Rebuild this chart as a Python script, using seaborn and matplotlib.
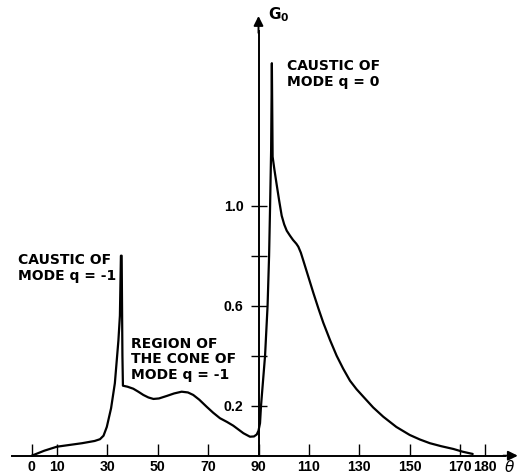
import matplotlib
matplotlib.use("Agg")
import matplotlib.pyplot as plt
import seaborn as sns

# G0 as a function of theta (degrees)
theta = [0, 5, 10, 15, 20, 25, 27.1, 28.5, 29.8, 31.5, 33.0, 34.4, 35.0, 35.4, 35.7, 36.0, 36.2,
         38.0, 40.3, 42.3, 44.3, 46.3, 48.3, 50.5, 53.6, 56.5, 59.5, 62.0, 64.1, 66.5, 69.4,
         72.0, 74.7, 77.5, 80.0, 82.0, 84.0, 86.6, 88.2, 89.3, 90.0, 90.6,
         91.0, 92.6, 93.6, 94.2, 94.6, 95.0, 95.3, 95.6, 96.3, 97.2, 98.2, 99.2, 100.2, 101.2,
         102.5, 103.7, 105.0, 105.8, 106.8, 107.8, 109.8, 111.8, 113.8, 115.7, 118.4, 121.0,
         123.6, 126.3, 128.9, 131.6, 135.5, 139.5, 144.7, 150.0, 154.0, 158.0, 162.5, 167.3,
         171.0, 175.0]
g0 = [0.0, 0.02, 0.036, 0.043, 0.05, 0.059, 0.066, 0.08, 0.115, 0.19, 0.29, 0.46, 0.56, 0.80,
      0.80, 0.40, 0.28,
      0.276, 0.268, 0.256, 0.243, 0.233, 0.227, 0.229, 0.239, 0.249, 0.256, 0.253, 0.243, 0.224,
      0.196, 0.172, 0.15, 0.135, 0.12, 0.105, 0.09, 0.076, 0.077, 0.085, 0.1, 0.13,
      0.2, 0.4, 0.6, 0.8, 1.0, 1.22, 1.57, 1.196, 1.145, 1.085, 1.02, 0.96, 0.925, 0.90,
      0.88, 0.863, 0.848, 0.836, 0.812, 0.78, 0.715, 0.65, 0.588, 0.532, 0.462, 0.40,
      0.348, 0.30, 0.266, 0.236, 0.193, 0.156, 0.115, 0.083, 0.065, 0.05, 0.038, 0.027,
      0.016, 0.007]

x_ticks = [0, 10, 30, 50, 70, 90, 110, 130, 150, 170, 180]
y_ticks = [0.2, 0.4, 0.6, 0.8, 1.0]
y_tick_labels = ["0.2", "", "0.6", "", "1.0"]

sns.set_theme(style="white")
plt.rcParams["font.family"] = ["DejaVu Sans"]
plt.rcParams["text.color"] = "black"

fig = plt.figure(figsize=(5.25, 4.74), dpi=100)
ax = fig.add_axes([0, 0, 1, 1])
ax.set_facecolor("white")

sns.lineplot(x=theta, y=g0, sort=False, estimator=None, color="black", linewidth=1.6, ax=ax)

ax.set_xlim(-12.58, 195.75)
ax.set_ylim(-0.0732, 1.8228)

for side in ["top", "right"]:
    ax.spines[side].set_visible(False)
ax.spines["left"].set_position(("data", 90))
ax.spines["bottom"].set_position(("data", 0))
ax.spines["left"].set_bounds(0, 1.70)
ax.spines["bottom"].set_bounds(-8, 188)
for side in ["left", "bottom"]:
    ax.spines[side].set_color("black")
    ax.spines[side].set_linewidth(1.4)

ax.annotate("", xy=(194, 0), xytext=(186, 0),
            arrowprops=dict(arrowstyle="-|>", color="black", lw=1.4, mutation_scale=14))
ax.annotate("", xy=(90, 1.77), xytext=(90, 1.68),
            arrowprops=dict(arrowstyle="-|>", color="black", lw=1.4, mutation_scale=14))

tick_font = dict(family="Liberation Sans", weight="bold", size=10.2)
ax.set_xticks(x_ticks)
ax.set_xticklabels([str(t) for t in x_ticks], fontdict=tick_font)
ax.set_yticks(y_ticks)
ax.set_yticklabels(y_tick_labels, fontdict=tick_font)
ax.tick_params(axis="x", direction="in", length=8.6, width=1.0, pad=3, bottom=True, colors="black")
ax.tick_params(axis="y", direction="inout", length=11.5, width=1.0, pad=5, left=True, colors="black")

ax.text(189.8, -0.012, r"$\theta$", fontsize=11, ha="center", va="top")
ax.text(93.8, 1.80, r"$\mathbf{G_0}$", fontsize=11, ha="left", va="top")

label_kw = dict(fontsize=10, fontweight="bold", ha="left", va="top", linespacing=1.15)
ax.text(-5.4, 0.81, "CAUSTIC OF\nMODE q = -1", **label_kw)
ax.text(39.6, 0.476, "REGION OF\nTHE CONE OF\nMODE q = -1", **label_kw)
ax.text(101.2, 1.585, "CAUSTIC OF\nMODE q = 0", **label_kw)

fig.savefig("out.png", dpi=100)
plt.close(fig)
